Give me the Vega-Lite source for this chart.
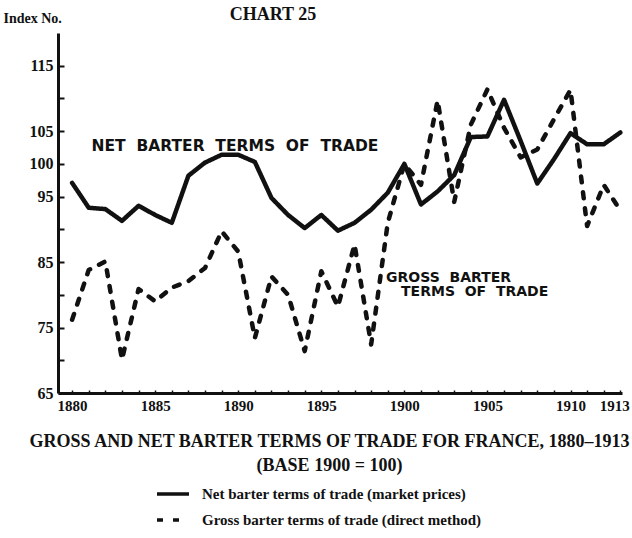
{
  "$schema": "https://vega.github.io/schema/vega-lite/v6.json",
  "width": 564,
  "height": 360,
  "autosize": {"type": "none"},
  "padding": {"top": 33, "left": 58, "right": 10, "bottom": 145},
  "background": "white",
  "config": {"view": {"stroke": null}, "font": "Liberation Serif"},
  "title": {"text": "CHART 25", "font": "Liberation Serif", "fontSize": 18, "fontWeight": "bold", "anchor": "middle", "dx": -67, "offset": -27, "baseline": "alphabetic", "color": "#111"},
  "resolve": {"axis": {"x": "independent", "y": "independent"}},
  "layer": [
    {
      "data": {"values": [
        {"year": 1880, "series": "Net barter terms of trade (market prices)", "value": 97.1},
        {"year": 1881, "series": "Net barter terms of trade (market prices)", "value": 93.3},
        {"year": 1882, "series": "Net barter terms of trade (market prices)", "value": 93.1},
        {"year": 1883, "series": "Net barter terms of trade (market prices)", "value": 91.3},
        {"year": 1884, "series": "Net barter terms of trade (market prices)", "value": 93.6},
        {"year": 1885, "series": "Net barter terms of trade (market prices)", "value": 92.2},
        {"year": 1886, "series": "Net barter terms of trade (market prices)", "value": 91.0},
        {"year": 1887, "series": "Net barter terms of trade (market prices)", "value": 98.2},
        {"year": 1888, "series": "Net barter terms of trade (market prices)", "value": 100.2},
        {"year": 1889, "series": "Net barter terms of trade (market prices)", "value": 101.4},
        {"year": 1890, "series": "Net barter terms of trade (market prices)", "value": 101.4},
        {"year": 1891, "series": "Net barter terms of trade (market prices)", "value": 100.3},
        {"year": 1892, "series": "Net barter terms of trade (market prices)", "value": 94.8},
        {"year": 1893, "series": "Net barter terms of trade (market prices)", "value": 92.2},
        {"year": 1894, "series": "Net barter terms of trade (market prices)", "value": 90.2},
        {"year": 1895, "series": "Net barter terms of trade (market prices)", "value": 92.2},
        {"year": 1896, "series": "Net barter terms of trade (market prices)", "value": 89.8},
        {"year": 1897, "series": "Net barter terms of trade (market prices)", "value": 91.0},
        {"year": 1898, "series": "Net barter terms of trade (market prices)", "value": 93.0},
        {"year": 1899, "series": "Net barter terms of trade (market prices)", "value": 95.6},
        {"year": 1900, "series": "Net barter terms of trade (market prices)", "value": 100.0},
        {"year": 1901, "series": "Net barter terms of trade (market prices)", "value": 93.8},
        {"year": 1902, "series": "Net barter terms of trade (market prices)", "value": 95.8},
        {"year": 1903, "series": "Net barter terms of trade (market prices)", "value": 98.3},
        {"year": 1904, "series": "Net barter terms of trade (market prices)", "value": 104.1},
        {"year": 1905, "series": "Net barter terms of trade (market prices)", "value": 104.2},
        {"year": 1906, "series": "Net barter terms of trade (market prices)", "value": 109.8},
        {"year": 1907, "series": "Net barter terms of trade (market prices)", "value": 103.5},
        {"year": 1908, "series": "Net barter terms of trade (market prices)", "value": 97.0},
        {"year": 1909, "series": "Net barter terms of trade (market prices)", "value": 100.7},
        {"year": 1910, "series": "Net barter terms of trade (market prices)", "value": 104.7},
        {"year": 1911, "series": "Net barter terms of trade (market prices)", "value": 103.0},
        {"year": 1912, "series": "Net barter terms of trade (market prices)", "value": 103.0},
        {"year": 1913, "series": "Net barter terms of trade (market prices)", "value": 104.8},
        {"year": 1880, "series": "Gross barter terms of trade (direct method)", "value": 76.2},
        {"year": 1881, "series": "Gross barter terms of trade (direct method)", "value": 83.8},
        {"year": 1882, "series": "Gross barter terms of trade (direct method)", "value": 85.1},
        {"year": 1883, "series": "Gross barter terms of trade (direct method)", "value": 70.1},
        {"year": 1884, "series": "Gross barter terms of trade (direct method)", "value": 80.9},
        {"year": 1885, "series": "Gross barter terms of trade (direct method)", "value": 79.0},
        {"year": 1886, "series": "Gross barter terms of trade (direct method)", "value": 81.1},
        {"year": 1887, "series": "Gross barter terms of trade (direct method)", "value": 82.1},
        {"year": 1888, "series": "Gross barter terms of trade (direct method)", "value": 84.1},
        {"year": 1889, "series": "Gross barter terms of trade (direct method)", "value": 89.7},
        {"year": 1890, "series": "Gross barter terms of trade (direct method)", "value": 86.6},
        {"year": 1891, "series": "Gross barter terms of trade (direct method)", "value": 73.4},
        {"year": 1892, "series": "Gross barter terms of trade (direct method)", "value": 82.8},
        {"year": 1893, "series": "Gross barter terms of trade (direct method)", "value": 80.0},
        {"year": 1894, "series": "Gross barter terms of trade (direct method)", "value": 71.4},
        {"year": 1895, "series": "Gross barter terms of trade (direct method)", "value": 83.6},
        {"year": 1896, "series": "Gross barter terms of trade (direct method)", "value": 78.2},
        {"year": 1897, "series": "Gross barter terms of trade (direct method)", "value": 87.7},
        {"year": 1898, "series": "Gross barter terms of trade (direct method)", "value": 72.4},
        {"year": 1899, "series": "Gross barter terms of trade (direct method)", "value": 91.0},
        {"year": 1900, "series": "Gross barter terms of trade (direct method)", "value": 100.0},
        {"year": 1901, "series": "Gross barter terms of trade (direct method)", "value": 96.8},
        {"year": 1902, "series": "Gross barter terms of trade (direct method)", "value": 109.7},
        {"year": 1903, "series": "Gross barter terms of trade (direct method)", "value": 94.2},
        {"year": 1904, "series": "Gross barter terms of trade (direct method)", "value": 106.0},
        {"year": 1905, "series": "Gross barter terms of trade (direct method)", "value": 111.4},
        {"year": 1906, "series": "Gross barter terms of trade (direct method)", "value": 105.5},
        {"year": 1907, "series": "Gross barter terms of trade (direct method)", "value": 101.0},
        {"year": 1908, "series": "Gross barter terms of trade (direct method)", "value": 102.2},
        {"year": 1909, "series": "Gross barter terms of trade (direct method)", "value": 106.8},
        {"year": 1910, "series": "Gross barter terms of trade (direct method)", "value": 111.3},
        {"year": 1911, "series": "Gross barter terms of trade (direct method)", "value": 90.5},
        {"year": 1912, "series": "Gross barter terms of trade (direct method)", "value": 96.8},
        {"year": 1913, "series": "Gross barter terms of trade (direct method)", "value": 92.9}
      ]},
      "mark": {"type": "line", "strokeWidth": 4.5, "strokeCap": "round", "strokeJoin": "round", "color": "#111"},
      "encoding": {
        "x": {
          "field": "year", "type": "quantitative",
          "scale": {"domain": [1879.15, 1913.1], "nice": false, "zero": false},
          "axis": {
            "orient": "bottom",
            "values": [1880, 1885, 1890, 1895, 1900, 1905, 1910, 1913],
            "format": "d",
            "labelOverlap": false, "labelFlush": 5, "labelFlushOffset": 9,
            "labelFont": "Liberation Serif", "labelFontSize": 15, "labelFontWeight": "bold", "labelColor": "#111", "labelPadding": 8,
            "tickSize": -3, "tickWidth": 1.5, "tickColor": "#111",
            "domainWidth": 3, "domainColor": "#111", "grid": false,
            "title": ["GROSS AND NET BARTER TERMS OF TRADE FOR FRANCE, 1880–1913", "(BASE 1900 = 100)"],
            "titleFont": "Liberation Serif", "titleFontSize": 18, "titleFontWeight": "bold", "titleColor": "#111",
            "titleX": 271, "titleY": 39, "titleAlign": "center", "titleBaseline": "top", "titleLineHeight": 24
          }
        },
        "y": {
          "field": "value", "type": "quantitative",
          "scale": {"domain": [65, 120], "nice": false, "zero": false},
          "axis": {
            "orient": "left",
            "values": [65, 75, 85, 95, 100, 105, 115],
            "labelOverlap": false,
            "labelFont": "Liberation Serif", "labelFontSize": 16, "labelFontWeight": "bold", "labelColor": "#111", "labelPadding": 11,
            "tickSize": -6, "tickWidth": 2, "tickColor": "#111",
            "domainWidth": 3, "domainColor": "#111", "grid": false,
            "title": "Index No.", "titleAngle": 0, "titleAlign": "left", "titleBaseline": "alphabetic",
            "titleX": -55, "titleY": -11,
            "titleFont": "Liberation Serif", "titleFontSize": 14, "titleFontWeight": "bold", "titleColor": "#111"
          }
        },
        "strokeDash": {
          "field": "series", "type": "nominal",
          "scale": {"domain": ["Net barter terms of trade (market prices)", "Gross barter terms of trade (direct method)"], "range": [[1, 0], [6, 10]]},
          "legend": {
            "orient": "none", "legendX": 97, "legendY": 443, "title": null, "direction": "vertical",
            "symbolType": "stroke", "symbolSize": 1024, "symbolStrokeWidth": 3.5, "symbolStrokeColor": "#111",
            "labelFont": "Liberation Serif", "labelFontSize": 15, "labelFontWeight": "bold", "labelColor": "#111",
            "rowPadding": 0, "labelOffset": 11, "labelLimit": 400
          }
        }
      }
    },
    {
      "data": {"values": [{"label": "NET\u00a0\u00a0BARTER\u00a0\u00a0TERMS\u00a0\u00a0OF\u00a0\u00a0TRADE", "year": 1889.8, "value": 102.8}]},
      "mark": {"type": "text", "font": "DejaVu Sans", "fontWeight": "bold", "fontSize": 15.5, "color": "#111", "align": "center", "baseline": "middle"},
      "encoding": {
        "x": {
          "field": "year", "type": "quantitative",
          "axis": {
            "orient": "bottom",
            "values": [1881,1882,1883,1884,1886,1887,1888,1889,1891,1892,1893,1894,1896,1897,1898,1899,1901,1902,1903,1904,1906,1907,1908,1909,1911,1912],
            "labels": false, "domain": false, "grid": false, "title": null,
            "tickSize": -3, "tickWidth": 1.5, "tickColor": "#111"
          }
        },
        "y": {
          "field": "value", "type": "quantitative",
          "axis": {
            "orient": "left",
            "values": [70, 80, 90, 110],
            "labels": false, "domain": false, "grid": false, "title": null,
            "tickSize": -6, "tickWidth": 2, "tickColor": "#111"
          }
        },
        "text": {"field": "label"}
      }
    },
    {
      "data": {"values": [
        {"label": "GROSS\u00a0\u00a0BARTER", "year": 1898.9, "value": 82.5},
        {"label": "TERMS\u00a0\u00a0OF\u00a0\u00a0TRADE", "year": 1899.8, "value": 80.4}
      ]},
      "mark": {"type": "text", "font": "DejaVu Sans", "fontWeight": "bold", "fontSize": 14, "color": "#111", "align": "left", "baseline": "middle"},
      "encoding": {
        "x": {"field": "year", "type": "quantitative", "axis": null},
        "y": {"field": "value", "type": "quantitative", "axis": null},
        "text": {"field": "label"}
      }
    }
  ]
}
